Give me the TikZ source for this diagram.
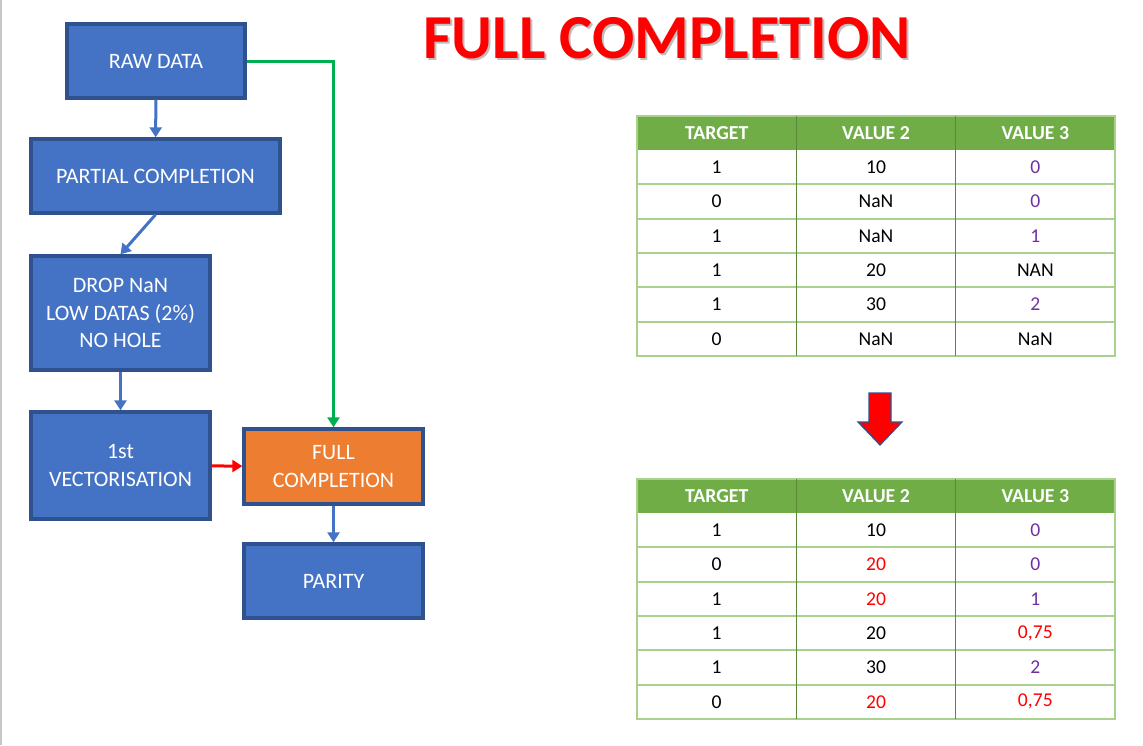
\documentclass[tikz,border=0pt]{standalone}
\usepackage{fontspec}
\setmainfont{Carlito}
\usetikzlibrary{arrows.meta, positioning, calc}

\definecolor{boxblue}{HTML}{4472C4}
\definecolor{boxline}{HTML}{2F528F}
\definecolor{boxorange}{HTML}{ED7D31}
\definecolor{linkgreen}{HTML}{00B050}
\definecolor{headgreen}{HTML}{70AD47}
\definecolor{rulegreen}{HTML}{A9D18E}
\definecolor{valpurple}{HTML}{7030A0}
\definecolor{valred}{HTML}{FF0000}

\newcommand{\valpu}[1]{\textcolor{valpurple}{#1}}
\newcommand{\valrd}[1]{\textcolor{valred}{#1}}

\tikzset{
  stepbox/.style={rectangle, draw=boxline, line width=1.7pt, fill=boxblue,
                  text=white, align=center, inner sep=0pt,
                  font=\fontsize{11}{13.8}\selectfont},
  flow/.style={draw=boxblue, line width=1.5pt,
               -{Triangle[width=6pt,length=5pt]}},
  cell/.style={inner sep=0pt, font=\fontsize{9.8}{12}\selectfont},
  headcell/.style={cell, text=white, font=\fontsize{9.9}{12}\selectfont\bfseries},
}

\begin{document}
\begin{tikzpicture}[x=0.5pt, y=-0.5pt]
  \useasboundingbox (0,0) rectangle (1143,745);
  \fill[white] (0,0) rectangle (1143,745);
  \draw[black!22, line width=0.8pt] (1,0) -- (1,745);

  % title
  \node[text=black!25, font=\fontsize{31.3}{36}\selectfont\bfseries]
       (title-shadow) at (669,40) {FULL COMPLETION};
  \node[text=valred, font=\fontsize{31.3}{36}\selectfont\bfseries]
       (title) at (667,38) {FULL COMPLETION};

  % flow chart
  \node[stepbox, minimum width=89pt, minimum height=37pt]
       (raw) at (156,61) {RAW DATA};
  \node[stepbox, minimum width=124.5pt, minimum height=37pt]
       (partial) at (155.5,176) {PARTIAL COMPLETION};
  \node[stepbox, minimum width=89.5pt, minimum height=57pt]
       (drop) at (120.5,313) {DROP NaN\\LOW DATAS (2\%)\\NO HOLE};
  \node[stepbox, minimum width=89.5pt, minimum height=53.5pt]
       (vector) at (120.5,465.5) {1st\\VECTORISATION};
  \node[stepbox, fill=boxorange, minimum width=89.5pt, minimum height=37.5pt]
       (full) at (333.5,466.5) {FULL\\COMPLETION};
  \node[stepbox, minimum width=89.5pt, minimum height=37pt]
       (parity) at (333.5,581) {PARITY};

  \draw[flow] (raw) -- (partial);
  \draw[flow] (partial.south) -- (drop.north);
  \draw[flow] (drop) -- (vector);
  \draw[flow, draw=valred] (vector) -- (full);
  \draw[flow] (full) -- (parity);
  \draw[flow, draw=linkgreen] (raw.east) -| (full.north);

  % tables
  \foreach \tab/\ty/\rows in {
      before/116/{1/10/\valpu{0}, 0/NaN/\valpu{0}, 1/NaN/\valpu{1},
                  1/20/NAN, 1/30/\valpu{2}, 0/NaN/NaN},
      after/479/{1/10/\valpu{0}, 0/\valrd{20}/\valpu{0}, 1/\valrd{20}/\valpu{1},
                 1/20/{\valrd{0,75}}, 1/30/\valpu{2}, 0/\valrd{20}/{\valrd{0,75}}}}{
    \begin{scope}[shift={(637,\ty)}]
      \fill[headgreen] (0,0) rectangle (478,34);
      \foreach \k in {1,...,6}
        \draw[rulegreen, line width=1pt] (0,34+34.3*\k) -- (478,34+34.3*\k);
      \draw[rulegreen, line width=1pt] (0,0) rectangle (478,240);
      \foreach \k in {1,2}
        \draw[headgreen!80!black, line width=0.7pt] (159.3*\k,0) -- (159.3*\k,240);
      \node[headcell] (\tab-h1) at (79.7,17) {TARGET};
      \node[headcell] (\tab-h2) at (239,17) {VALUE 2};
      \node[headcell] (\tab-h3) at (398.3,17) {VALUE 3};
      \foreach \ca/\cb/\cc [count=\r] in \rows {
        \node[cell] (\tab-\r-1) at (79.7,17+34.3*\r) {\ca};
        \node[cell] (\tab-\r-2) at (239,17+34.3*\r) {\cb};
        \node[cell] (\tab-\r-3) at (398.3,17+34.3*\r) {\cc};
      }
    \end{scope}
  }

  % down arrow between the tables
  \draw[boxline, line width=0.6pt, fill=valred]
       (869,393) -- (891,393) -- (891,422) -- (902,422) -- (880,445)
       -- (858,422) -- (869,422) -- cycle;
\end{tikzpicture}
\end{document}
